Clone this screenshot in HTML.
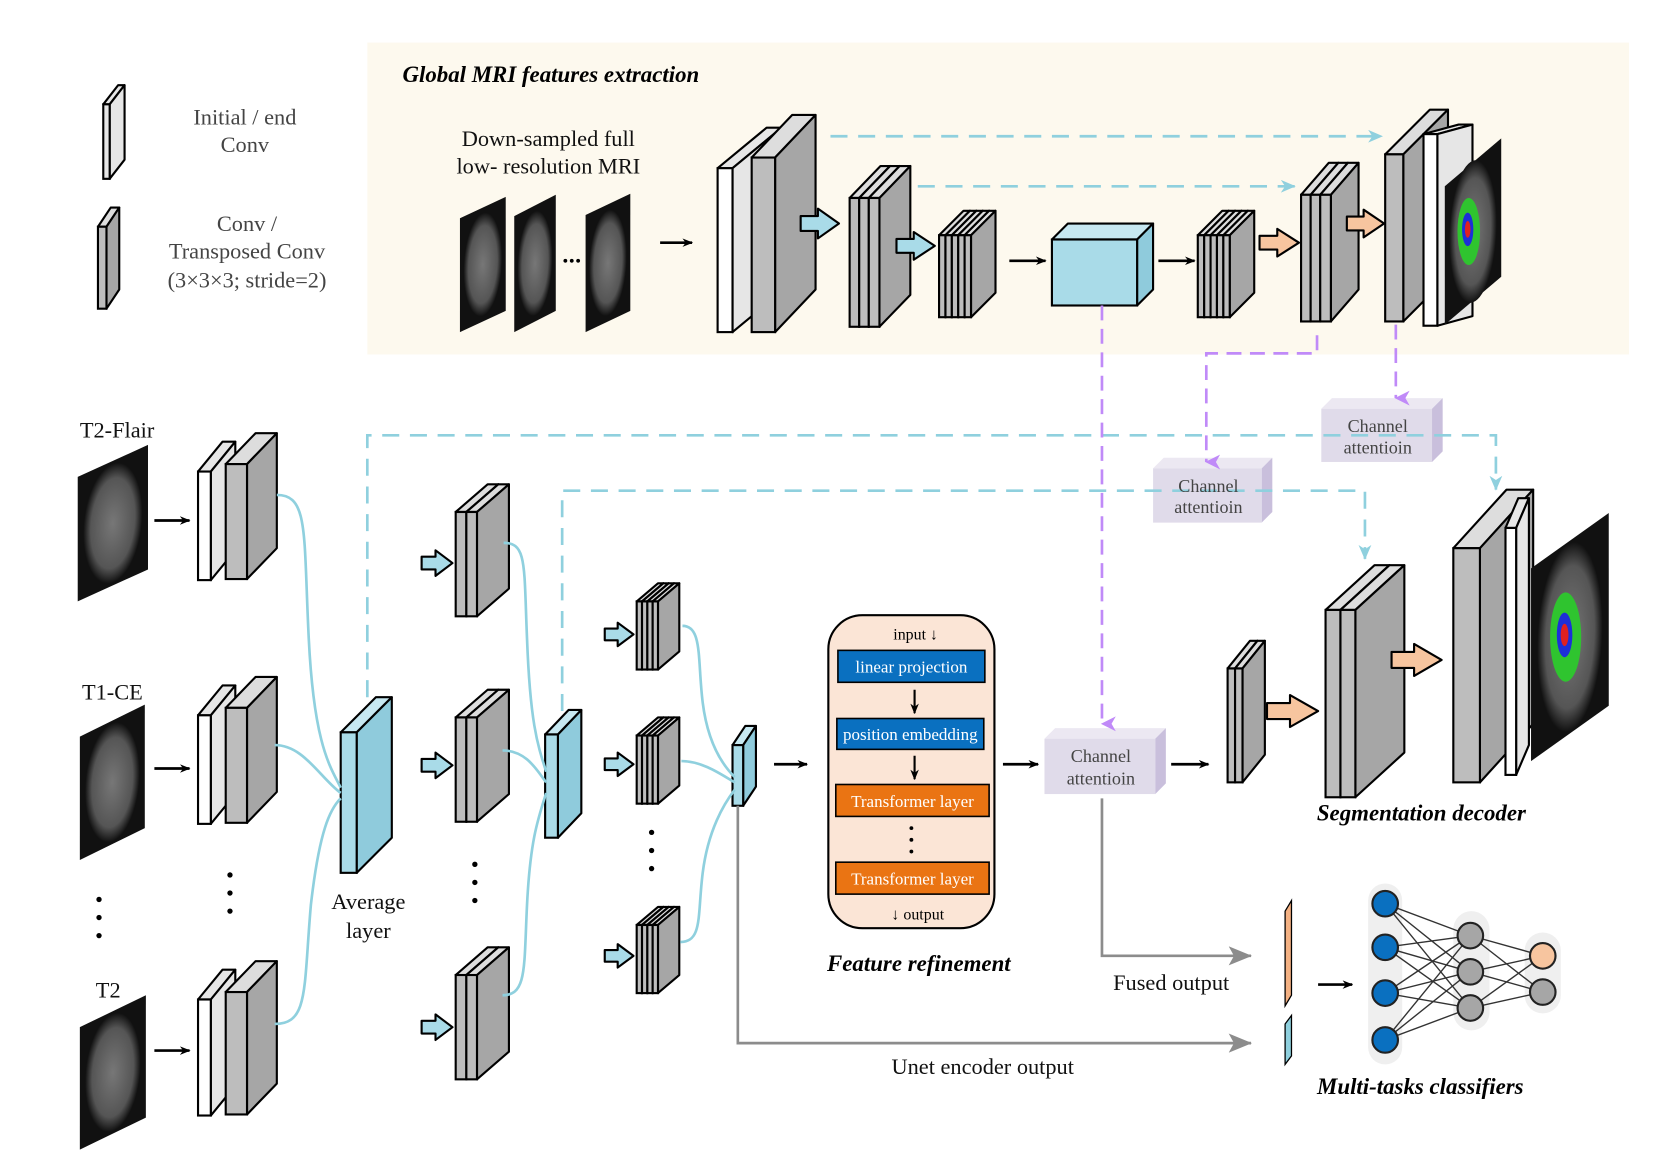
<!DOCTYPE html>
<html><head><meta charset="utf-8">
<style>
html,body{margin:0;padding:0;background:#fff;}
svg{display:block;}
text{font-family:"Liberation Serif",serif;}
.bi{font-weight:bold;font-style:italic;}
</style></head>
<body>
<svg id="s" width="1662" height="1173" viewBox="0 0 1561 1102" preserveAspectRatio="none" xmlns="http://www.w3.org/2000/svg">
<defs>
<marker id="ab" markerWidth="10" markerHeight="8" refX="9" refY="4" orient="auto" markerUnits="userSpaceOnUse"><path d="M0,0 L10,4 L0,8 L3,4z" fill="#000"/></marker>
<marker id="ac" markerWidth="14" markerHeight="12" refX="13" refY="6" orient="auto" markerUnits="userSpaceOnUse"><path d="M0,0 L14,6 L0,12 L4,6z" fill="#8fd0de"/></marker>
<marker id="ap" markerWidth="14" markerHeight="14" refX="7" refY="13" orient="auto" markerUnits="userSpaceOnUse"><path d="M0,0 L7,14 L14,0 L7,4z" fill="#c08af8"/></marker>
<marker id="ag" markerWidth="22" markerHeight="18" refX="21" refY="9" orient="auto" markerUnits="userSpaceOnUse"><path d="M0,0 L22,9 L0,18 L5,9z" fill="#8c8c8c"/></marker>
<radialGradient id="brain"><stop offset="0" stop-color="#777"/><stop offset="0.75" stop-color="#555"/><stop offset="1" stop-color="#111"/></radialGradient>
</defs>
<rect x="345" y="40" width="1185" height="293" fill="#fdf9ee"/>
<g id="g"></g>
<!-- connectors -->
<g fill="none" stroke="#8fd0de" stroke-width="2.5" stroke-dasharray="16,10">
<path d="M780,128 H1298" marker-end="url(#ac)"/>
<path d="M862,175 H1216" marker-end="url(#ac)"/>
<path d="M345,655 V409 H1405 V460" marker-end="url(#ac)"/>
<path d="M528,668 V461 H1282 V525" marker-end="url(#ac)"/>
</g>
<g fill="none" stroke="#c08af8" stroke-width="2.5" stroke-dasharray="14,8">
<path d="M1035,287 V680" marker-end="url(#ap)"/>
<path d="M1237,315 V332 H1133 V434" marker-end="url(#ap)"/>
<path d="M1311,305 V374" marker-end="url(#ap)"/>
</g>
<g fill="none" stroke="#8fd0de" stroke-width="2.5">
<path d="M260,465 C290,465 285,500 290,600 C295,700 310,720 320,740"/>
<path d="M258,700 C285,700 300,730 320,745"/>
<path d="M258,962 C290,962 285,930 292,850 C300,780 310,760 320,750"/>
<path d="M473,510 C495,510 492,530 495,600 C498,680 505,700 513,725"/>
<path d="M472,705 C495,705 505,725 513,735"/>
<path d="M472,935 C495,935 492,910 495,850 C498,790 505,770 513,745"/>
<path d="M641,588 C660,588 655,620 660,660 C665,700 680,720 690,730"/>
<path d="M640,715 C660,715 678,728 690,735"/>
<path d="M639,885 C660,885 655,860 660,820 C665,780 680,755 690,742"/>
</g>
<g fill="none" stroke="#8c8c8c" stroke-width="2.5">
<path d="M1035,750 V898 H1175" marker-end="url(#ag)"/>
<path d="M693,757 V980 H1175" marker-end="url(#ag)"/>
</g>
<g stroke="#000" stroke-width="2.5" fill="none">
<path d="M620,228 H650" marker-end="url(#ab)"/>
<path d="M948,245 H982" marker-end="url(#ab)"/>
<path d="M1088,245 H1122" marker-end="url(#ab)"/>
<path d="M145,489 H178" marker-end="url(#ab)"/>
<path d="M145,722 H178" marker-end="url(#ab)"/>
<path d="M145,987 H178" marker-end="url(#ab)"/>
<path d="M727,718 H758" marker-end="url(#ab)"/>
<path d="M942,718 H975" marker-end="url(#ab)"/>
<path d="M1100,718 H1135" marker-end="url(#ab)"/>
<path d="M1238,925 H1270" marker-end="url(#ab)"/>
</g>
<!-- dots -->
<g fill="#000">
<circle cx="93" cy="845" r="2.5"/><circle cx="93" cy="862" r="2.5"/><circle cx="93" cy="879" r="2.5"/>
<circle cx="216" cy="822" r="2.5"/><circle cx="216" cy="839" r="2.5"/><circle cx="216" cy="856" r="2.5"/>
<circle cx="446" cy="812" r="2.5"/><circle cx="446" cy="829" r="2.5"/><circle cx="446" cy="846" r="2.5"/>
<circle cx="612" cy="782" r="2.5"/><circle cx="612" cy="799" r="2.5"/><circle cx="612" cy="816" r="2.5"/>
<circle cx="531" cy="245" r="1.8"/><circle cx="537" cy="245" r="1.8"/><circle cx="543" cy="245" r="1.8"/>
</g>
<!-- feature refinement -->
<rect x="778" y="578" width="156" height="294" rx="32" fill="#fbe5d6" stroke="#000" stroke-width="2"/>
<rect x="787" y="611" width="138" height="30" fill="#0a70c0" stroke="#000" stroke-width="1.5"/>
<rect x="786" y="675" width="138" height="29" fill="#0a70c0" stroke="#000" stroke-width="1.5"/>
<rect x="785" y="737" width="144" height="30" fill="#ea7413" stroke="#000" stroke-width="1.5"/>
<rect x="785" y="810" width="144" height="30" fill="#ea7413" stroke="#000" stroke-width="1.5"/>
<g stroke="#000" stroke-width="2" fill="none">
<path d="M859,648 V670" marker-end="url(#ab)"/>
<path d="M859,710 V732" marker-end="url(#ab)"/>
</g>
<g fill="#000"><circle cx="856" cy="778" r="1.8"/><circle cx="856" cy="789" r="1.8"/><circle cx="856" cy="800" r="1.8"/></g>
<g font-size="16" text-anchor="middle" fill="#fff">
<text x="856" y="632">linear projection</text>
<text x="855" y="695">position embedding</text>
<text x="857" y="758">Transformer layer</text>
<text x="857" y="831">Transformer layer</text>
</g>
<g font-size="15" text-anchor="middle" fill="#000">
<text x="860" y="601">input ↓</text>
<text x="862" y="864">↓ output</text>
</g>
<!-- NN -->
<rect x="1285" y="830" width="32" height="170" rx="16" fill="#efefef"/>
<rect x="1365" y="856" width="34" height="112" rx="17" fill="#efefef"/>
<rect x="1432" y="876" width="34" height="76" rx="17" fill="#efefef"/>
<g id="nn" stroke="#333" stroke-width="1.3"></g>
<!-- bars -->
<polygon points="1207,856 1213,846 1213,935 1207,945" fill="#f4b183" stroke="#000" stroke-width="1.2"/>
<polygon points="1207,962 1213,954 1213,992 1207,1000" fill="#8fd0de" stroke="#000" stroke-width="1.2"/>
<!-- text -->
<text x="378" y="77" font-size="21.5" class="bi">Global MRI features extraction</text>
<g font-size="21" text-anchor="middle" fill="#111">
<text x="515" y="137">Down-sampled full</text>
<text x="515" y="163">low- resolution MRI</text>
</g>
<g font-size="21" text-anchor="middle" fill="#444">
<text x="230" y="117">Initial / end</text>
<text x="230" y="143">Conv</text>
<text x="232" y="217">Conv /</text>
<text x="232" y="243">Transposed Conv</text>
<text x="232" y="270">(3×3×3; stride=2)</text>
</g>
<g font-size="21" fill="#111">
<text x="75" y="411">T2-Flair</text>
<text x="77" y="657">T1-CE</text>
<text x="90" y="937">T2</text>
<text x="346" y="854" text-anchor="middle">Average</text>
<text x="346" y="881" text-anchor="middle">layer</text>
<text x="1100" y="930" text-anchor="middle">Fused output</text>
<text x="923" y="1009" text-anchor="middle">Unet encoder output</text>
</g>
<g font-size="21.5" class="bi" text-anchor="middle">
<text x="863" y="912">Feature refinement</text>
<text x="1335" y="771">Segmentation decoder</text>
<text x="1334" y="1028">Multi-tasks classifiers</text>
</g>
<g font-size="17" text-anchor="middle" fill="#444">
<text x="1294" y="406">Channel</text><text x="1294" y="426">attentioin</text>
<text x="1135" y="462">Channel</text><text x="1135" y="482">attentioin</text>
<text x="1034" y="716">Channel</text><text x="1034" y="737">attentioin</text>
</g>
</svg>
<script>
var G=document.getElementById('g'),NS='http://www.w3.org/2000/svg';
function el(t,a){var e=document.createElementNS(NS,t);for(var k in a)e.setAttribute(k,a[k]);G.appendChild(e);return e;}
function poly(p,f,sw,st){el('polygon',{points:p.map(function(q){return q.join(',')}).join(' '),fill:f,stroke:st||'#000','stroke-width':sw||2,'stroke-linejoin':'round'});}
function slab(x,yTop,w,h,dx,dy,f,side,top){
 var y=yTop+dy;
 poly([[x,y],[x+dx,yTop],[x+w+dx,yTop],[x+w,y]],top||f);
 poly([[x+w,y],[x+w+dx,yTop],[x+w+dx,yTop+h],[x+w,y+h]],side||f);
 el('rect',{x:x,y:y,width:w,height:h,fill:f,stroke:'#000','stroke-width':2});
}
function grp(x,yTop,ws,h,dx,dy,f,side){var cx=x;for(var i=0;i<ws.length;i++){slab(cx,yTop,ws[i],h,dx,dy,f[i]||f[f.length-1],side,'#ddd');cx+=ws[i];}}
function barrow(x,y,len,hh,f){
 var s=hh/2,b=len*0.45;
 poly([[x,y-s*0.5],[x+b,y-s*0.5],[x+b,y-s],[x+len,y],[x+b,y+s],[x+b,y+s*0.5],[x,y+s*0.5]],f,2);
}
function mri(x1,x2,yTop,yBot,sk,col){
 poly([[x1,yTop+sk],[x2,yTop],[x2,yBot-sk],[x1,yBot]],'#111',0,'none');
 var cx=(x1+x2)/2,cy=(yTop+yBot)/2;
 el('ellipse',{cx:cx,cy:cy,rx:(x2-x1)*0.42,ry:(yBot-yTop)*0.38,fill:'url(#brain)',transform:'skewY(-20) translate(0,'+(Math.tan(20*Math.PI/180)*cx)+')'});
 if(col){el('ellipse',{cx:cx-4,cy:cy,rx:(x2-x1)*0.2,ry:(yBot-yTop)*0.18,fill:'#2fc42f'});
  el('ellipse',{cx:cx-5,cy:cy-2,rx:(x2-x1)*0.1,ry:(yBot-yTop)*0.09,fill:'#1d2fd8'});
  el('ellipse',{cx:cx-5,cy:cy-2,rx:(x2-x1)*0.05,ry:(yBot-yTop)*0.045,fill:'#e02020'});}
}
var LG='#e6e6e6',GR='#bdbdbd',DG='#a6a6a6',W='#fff',LB='#a9dbe8',LB2='#8fcbdc',OR='#f7c59f';
slab(97,80,6,70,14,18,LG,LG);
slab(92,195,8,77,12,18,GR,DG,'#ddd');
mri(432,475,185,312,20);mri(483,522,183,312,20);mri(550,592,182,312,20);
slab(674,120,14,154,46,38,W,LG,LG);
slab(706,108,22,164,38,40,GR,DG,'#ddd');
barrow(752,210,36,28,LB);
grp(798,156,[9,9,10],121,29,30,[GR,GR,GR],DG);
barrow(842,231,36,26,LB);
grp(882,198,[6,6,6,6,6],77,23,23,[GR],DG);
slab(988,210,80,62,15,15,LB,LB2,'#c7e8f1');
grp(1125,198,[6,6,6,6,6],77,23,23,[GR],DG);
barrow(1183,228,37,26,OR);
grp(1222,153,[9,9,10],119,26,30,[GR],DG);
barrow(1265,210,35,26,OR);
slab(1301,103,17,157,42,42,GR,DG,'#ddd');
slab(1337,117,13,180,33,9,W,LG,LG);
mri(1357,1410,130,305,45,1);
mri(73,139,418,565,30);mri(75,136,662,808,30);mri(75,137,935,1080,30);
[[415,102],[644,102],[911,109]].forEach(function(a){var y=a[0],h=a[1];
 slab(186,y,12,h,23,28,W,LG,LG);
 slab(212,y-8,20,h+6,28,29,GR,DG,'#ddd');});
slab(320,655,15,132,33,33,LB,LB2,'#c7e8f1');
[[455,480,529],[648,673,719],[890,915,965]].forEach(function(a){
 grp(428,a[0],[10,10],98,30,26,[GR],DG);barrow(396,a[2],29,24,LB);});
slab(512,667,12,97,22,23,LB,LB2,'#c7e8f1');
[[548,596],[674,718],[852,898]].forEach(function(a){
 grp(598,a[0],[5,5,5,5],64,20,17,[GR],DG);barrow(568,a[1],27,22,LB);});
slab(688,682,10,57,12,18,LB,LB2,'#c7e8f1');
function ca(x,y,w,h,d){poly([[x,y+d],[x+d,y],[x+w+d,y],[x+w,y+d]],'#ece8f2',0,'none');poly([[x+w,y+d],[x+w+d,y],[x+w+d,y+h],[x+w,y+h+d]],'#c9bfdc',0,'none');el('rect',{x:x,y:y+d,width:w,height:h,fill:'#e0dbea'});}
ca(1241,374,104,50,10);ca(1083,430,102,51,10);ca(981,684,104,52,10);
grp(1153,602,[7,7],107,21,26,[GR],DG);
barrow(1190,668,48,30,OR);
grp(1245,531,[14,14],176,46,42,[GR],DG);
barrow(1307,620,47,30,OR);
slab(1365,460,25,220,50,55,GR,DG,'#ddd');
slab(1414,468,10,232,12,28,W,LG,LG);
mri(1438,1511,482,715,52,1);
var L1=[849,890,933,977],L2=[879,913,947],L3=[898,932],N=document.getElementById('nn');
function ln(a,b,c,d){var e=document.createElementNS(NS,'line');e.setAttribute('x1',a);e.setAttribute('y1',b);e.setAttribute('x2',c);e.setAttribute('y2',d);N.appendChild(e);}
L1.forEach(function(a){L2.forEach(function(b){ln(1301,a,1381,b);});});
L2.forEach(function(a){L3.forEach(function(b){ln(1381,a,1449,b);});});
function cir(x,y,f){var e=document.createElementNS(NS,'circle');e.setAttribute('cx',x);e.setAttribute('cy',y);e.setAttribute('r',12);e.setAttribute('fill',f);e.setAttribute('stroke','#222');e.setAttribute('stroke-width',2);N.appendChild(e);}
L1.forEach(function(y){cir(1301,y,'#0a70c0');});
L2.forEach(function(y){cir(1381,y,'#a6a6a6');});
cir(1449,898,'#f7c59f');cir(1449,932,'#a6a6a6');
</script>
</body></html>
